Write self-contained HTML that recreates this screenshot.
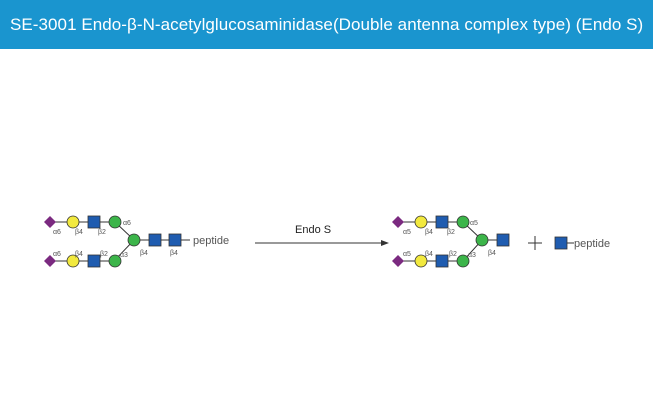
<!DOCTYPE html>
<html><head><style>
body{margin:0;width:653px;height:404px;background:#fff;overflow:hidden;font-family:"Liberation Sans",sans-serif}
.h{height:49px;background:#1a95cf;color:#fff;font-size:17px;line-height:49px;padding-left:10px;white-space:nowrap;letter-spacing:0.06px}
</style></head><body>
<div class="h">SE-3001 Endo-β-N-acetylglucosaminidase(Double antenna complex type) (Endo S)</div>
<svg width="653" height="355" viewBox="0 49 653 355" style="position:absolute;left:0;top:49px" font-family="Liberation Sans, sans-serif">
<defs>
<g id="ant">
<line x1="0" y1="0" x2="65" y2="0" stroke="#333" stroke-width="1"/>
<polygon points="0,-6 6,0 0,6 -6,0" fill="#7b2a80"/>
<circle cx="23" cy="0" r="6" fill="#f2e93e" stroke="#333" stroke-width="0.8"/>
<rect x="38" y="-6" width="12" height="12" fill="#1f5cb0" stroke="#333" stroke-width="0.8"/>
<circle cx="65" cy="0" r="6" fill="#3cb54a" stroke="#333" stroke-width="0.8"/>
</g>
</defs>
<g font-size="7" fill="#555">
<line x1="115" y1="222" x2="134" y2="240" stroke="#333"/>
<line x1="115" y1="260" x2="134" y2="240" stroke="#333"/>
<line x1="134" y1="240" x2="190" y2="240" stroke="#333"/>
<use href="#ant" x="50" y="222"/>
<use href="#ant" x="50" y="261"/>
<circle cx="134" cy="240" r="6" fill="#3cb54a" stroke="#333" stroke-width="0.8"/>
<rect x="149" y="234" width="12" height="12" fill="#1f5cb0" stroke="#333" stroke-width="0.8"/>
<rect x="169" y="234" width="12" height="12" fill="#1f5cb0" stroke="#333" stroke-width="0.8"/>
<text x="53" y="234">α6</text><text x="75" y="234">β4</text><text x="98" y="234">β2</text><text x="123" y="225">α6</text>
<text x="53" y="256">α6</text><text x="75" y="256">β4</text><text x="100" y="256">β2</text><text x="120" y="257">α3</text>
<text x="140" y="255">β4</text><text x="170" y="255">β4</text>
</g>
<text x="193" y="244" font-size="11" fill="#555">peptide</text>
<text x="295" y="233" font-size="11" fill="#222">Endo S</text>
<line x1="255" y1="243" x2="384" y2="243" stroke="#333"/>
<polygon points="389,243 381,240 381,246" fill="#333"/>
<g font-size="7" fill="#555">
<line x1="463" y1="222" x2="482" y2="240" stroke="#333"/>
<line x1="463" y1="261" x2="482" y2="240" stroke="#333"/>
<line x1="482" y1="240" x2="503" y2="240" stroke="#333"/>
<use href="#ant" x="398" y="222"/>
<use href="#ant" x="398" y="261"/>
<circle cx="482" cy="240" r="6" fill="#3cb54a" stroke="#333" stroke-width="0.8"/>
<rect x="497" y="234" width="12" height="12" fill="#1f5cb0" stroke="#333" stroke-width="0.8"/>
<text x="403" y="234">α5</text><text x="425" y="234">β4</text><text x="447" y="234">β2</text><text x="470" y="225">α5</text>
<text x="403" y="256">α5</text><text x="425" y="256">β4</text><text x="449" y="256">β2</text><text x="468" y="257">α3</text>
<text x="488" y="255">β4</text>
</g>
<line x1="528" y1="243" x2="542" y2="243" stroke="#333"/>
<line x1="535" y1="236" x2="535" y2="250" stroke="#333"/>
<line x1="561" y1="243" x2="574" y2="243" stroke="#333"/>
<rect x="555" y="237" width="12" height="12" fill="#1f5cb0" stroke="#333" stroke-width="0.8"/>
<text x="574" y="247" font-size="11" fill="#555">peptide</text>
</svg>
</body></html>
